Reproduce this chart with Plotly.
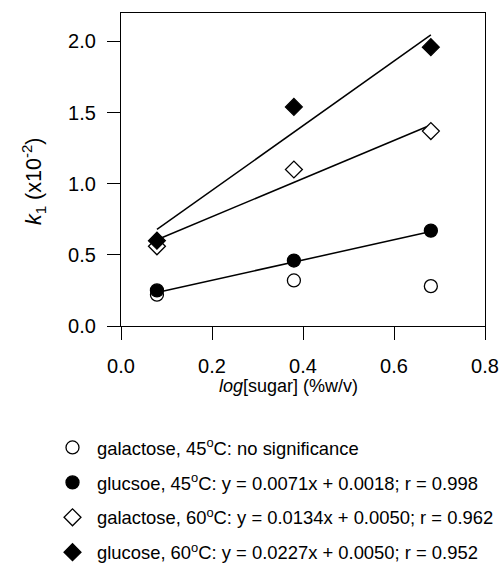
import plotly.graph_objects as go

# x values: log[sugar] (%w/v)
log_sugar = [0.079, 0.380, 0.681]

# k1 (x10^-2) for each series
gal45 = [0.22, 0.32, 0.28]
glc45 = [0.25, 0.46, 0.67]
gal60 = [0.56, 1.10, 1.37]
glc60 = [0.60, 1.54, 1.96]

# regression fits from the legend (k in units of 1e-2)
fit_slope = {"glc45": 0.71, "gal60": 1.34, "glc60": 2.27}
fit_inter = {"glc45": 0.18, "gal60": 0.50, "glc60": 0.50}

names = [
    "galactose, 45<sup>o</sup>C: no significance",
    "glucsoe, 45<sup>o</sup>C: y = 0.0071x + 0.0018; r = 0.998",
    "galactose, 60<sup>o</sup>C: y = 0.0134x + 0.0050; r = 0.962",
    "glucose, 60<sup>o</sup>C: y = 0.0227x + 0.0050; r = 0.952",
]

FONT = "Liberation Sans, Arial, Helvetica, sans-serif"
W, H = 502, 568
L, R, T, B = 121, 17, 13, 242
PW, PH = W - L - R, H - T - B

fig = go.Figure()

xl = [min(log_sugar), max(log_sugar)]
for key in ["glc45", "gal60", "glc60"]:
    fig.add_trace(go.Scatter(
        x=xl, y=[fit_slope[key] * v + fit_inter[key] for v in xl],
        mode="lines", line=dict(color="black", width=1.5),
        showlegend=False, hoverinfo="skip"))

series = [
    (gal45, "circle", "white"),
    (glc45, "circle", "black"),
    (gal60, "diamond", "white"),
    (glc60, "diamond", "black"),
]
for i, (ys, sym, fill) in enumerate(series):
    fig.add_trace(go.Scatter(
        x=log_sugar, y=ys, mode="markers", name=names[i],
        legendgroup=f"g{i}",
        marker=dict(symbol=sym, size=13, color=fill,
                    line=dict(color="black", width=1.3))))

axis_common = dict(
    showline=True, linecolor="black", linewidth=1.3, mirror=True,
    ticks="outside", ticklen=13, tickwidth=1.3, tickcolor="black",
    showgrid=False, zeroline=False, automargin=False,
    tickfont=dict(family=FONT, size=20, color="black"),
)
fig.update_xaxes(range=[0, 0.8], tickvals=[0, 0.2, 0.4, 0.6, 0.8],
                 ticktext=["0.0", "0.2", "0.4", "0.6", "0.8"],
                 ticklabelstandoff=9, **axis_common)
fig.update_yaxes(range=[0, 2.2], tickvals=[0, 0.5, 1.0, 1.5, 2.0],
                 ticktext=["0.0", "0.5", "1.0", "1.5", "2.0"],
                 ticklabelstandoff=7, **axis_common)

fig.add_annotation(text="<i>log</i>[sugar] (%w/v)", xref="paper", yref="paper",
                   x=(288 - L) / PW, y=-(386 - (T + PH)) / PH, showarrow=False,
                   xanchor="center", yanchor="middle",
                   font=dict(family=FONT, size=18, color="black"))
fig.add_annotation(text="<i>k</i><sub>1</sub> (x10<sup>-2</sup>)", xref="paper", yref="paper",
                   x=-(L - 33) / PW, y=((T + PH) - 181) / PH, showarrow=False,
                   textangle=-90, xanchor="center", yanchor="middle",
                   font=dict(family=FONT, size=21.5, color="black"))

fig.update_layout(
    width=W, height=H,
    margin=dict(l=L, r=R, t=T, b=B, autoexpand=False),
    plot_bgcolor="white", paper_bgcolor="white",
    showlegend=True,
    legend=dict(xref="container", yref="container",
                x=48 / W, y=1 - 429 / H, xanchor="left", yanchor="top",
                font=dict(family=FONT, size=18.4, color="black"),
                itemwidth=39,
                tracegroupgap=8, traceorder="grouped", bgcolor="rgba(0,0,0,0)"),
)

fig.write_html("out.html")
